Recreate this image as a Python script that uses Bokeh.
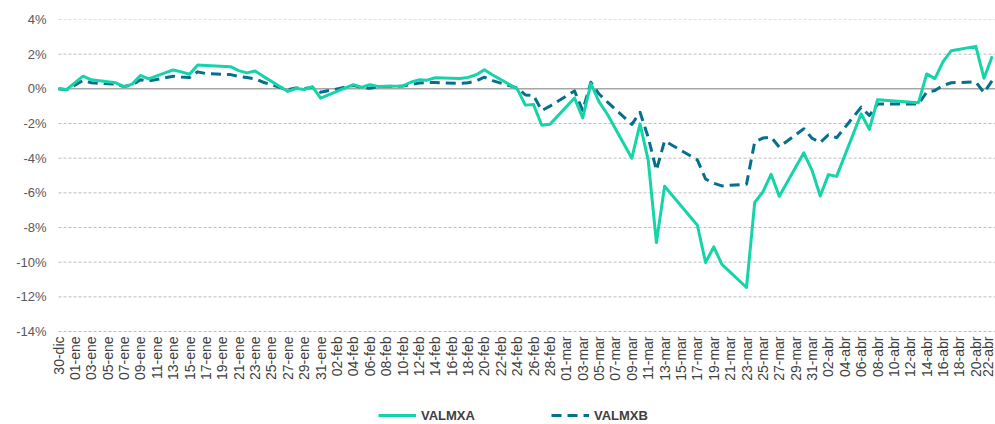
import pandas as pd
from math import pi
from bokeh.plotting import figure
from bokeh.models import (FixedTicker, Legend, LegendItem,
                          PrintfTickFormatter, ColumnDataSource)
from bokeh.embed import file_html
from bokeh.resources import INLINE

# ---------------- data ----------------
dates = [
    "2019-12-30", "2019-12-31",
    "2020-01-02", "2020-01-03", "2020-01-06", "2020-01-07", "2020-01-08", "2020-01-09", "2020-01-10",
    "2020-01-13", "2020-01-14", "2020-01-15", "2020-01-16", "2020-01-17",
    "2020-01-20", "2020-01-21", "2020-01-22", "2020-01-23", "2020-01-24",
    "2020-01-27", "2020-01-28", "2020-01-29", "2020-01-30", "2020-01-31",
    "2020-02-04", "2020-02-05", "2020-02-06", "2020-02-07",
    "2020-02-10", "2020-02-11", "2020-02-12", "2020-02-13", "2020-02-14",
    "2020-02-17", "2020-02-18", "2020-02-19", "2020-02-20", "2020-02-21",
    "2020-02-24", "2020-02-25", "2020-02-26", "2020-02-27", "2020-02-28",
    "2020-03-02", "2020-03-03", "2020-03-04", "2020-03-05", "2020-03-06",
    "2020-03-09", "2020-03-10", "2020-03-11", "2020-03-12", "2020-03-13",
    "2020-03-17", "2020-03-18", "2020-03-19", "2020-03-20",
    "2020-03-23", "2020-03-24", "2020-03-25", "2020-03-26", "2020-03-27",
    "2020-03-30", "2020-03-31", "2020-04-01", "2020-04-02", "2020-04-03",
    "2020-04-06", "2020-04-07", "2020-04-08",
    "2020-04-13", "2020-04-14", "2020-04-15", "2020-04-16", "2020-04-17",
    "2020-04-20", "2020-04-21", "2020-04-22",
]

valmxa = [
    0.00, -0.04,
    0.73, 0.52, 0.35, 0.13, 0.27, 0.77, 0.57,
    1.09, 0.98, 0.84, 1.38, 1.35,
    1.28, 1.05, 0.92, 1.03, 0.72,
    -0.15, 0.02, -0.04, 0.13, -0.54,
    0.24, 0.08, 0.24, 0.14,
    0.16, 0.38, 0.52, 0.50, 0.64,
    0.60, 0.66, 0.81, 1.10, 0.80,
    0.00, -0.94, -0.91, -2.10, -2.05,
    -0.53, -1.68, 0.30, -0.75, -1.45,
    -4.00, -2.02, -4.13, -8.87, -5.62,
    -7.87, -10.02, -9.12, -10.13,
    -11.46, -6.56, -5.95, -4.93, -6.20,
    -3.69, -4.70, -6.18, -4.95, -5.05,
    -1.44, -2.34, -0.63,
    -0.80, 0.86, 0.59, 1.57, 2.20,
    2.45, 0.61, 1.88,
]

valmxb = [
    0.00, -0.05,
    0.48, 0.35, 0.27, 0.13, 0.22, 0.53, 0.45,
    0.73, 0.68, 0.65, 0.98, 0.88,
    0.82, 0.72, 0.65, 0.58, 0.38,
    -0.05, 0.05, 0.02, 0.08, -0.20,
    0.19, 0.08, 0.03, 0.13,
    0.16, 0.25, 0.33, 0.36, 0.36,
    0.32, 0.35, 0.45, 0.67, 0.47,
    0.05, -0.35, -0.38, -1.25, -1.00,
    -0.12, -1.25, 0.38, -0.30, -0.75,
    -2.05, -1.35, -2.80, -4.70, -3.00,
    -4.10, -5.20, -5.45, -5.60,
    -5.50, -3.07, -2.84, -2.78, -3.36,
    -2.30, -2.85, -3.10, -2.65, -2.82,
    -1.06, -1.54, -0.88,
    -0.88, -0.19, -0.10, 0.20, 0.35,
    0.40, -0.22, 0.48,
]

tick_labels = [
    "30-dic", "01-ene", "03-ene", "05-ene", "07-ene", "09-ene", "11-ene", "13-ene",
    "15-ene", "17-ene", "19-ene", "21-ene", "23-ene", "25-ene", "27-ene", "29-ene",
    "31-ene", "02-feb", "04-feb", "06-feb", "08-feb", "10-feb", "12-feb", "14-feb",
    "16-feb", "18-feb", "20-feb", "22-feb", "24-feb", "26-feb", "28-feb", "01-mar",
    "03-mar", "05-mar", "07-mar", "09-mar", "11-mar", "13-mar", "15-mar", "17-mar",
    "19-mar", "21-mar", "23-mar", "25-mar", "27-mar", "29-mar", "31-mar", "02-abr",
    "04-abr", "06-abr", "08-abr", "10-abr", "12-abr", "14-abr", "16-abr", "18-abr",
    "20-abr", "22-abr",
]

y_ticks = [4, 2, 0, -2, -4, -6, -8, -10, -12, -14]

# ---------------- build ----------------
start = pd.Timestamp("2019-12-30")
day_num = [(pd.Timestamp(d) - start).days for d in dates]
src = ColumnDataSource(dict(x=day_num, a=valmxa, b=valmxb))

tick_pos = [2 * i for i in range(len(tick_labels))]

GREEN = "#14d4a8"
TEAL = "#04708e"
FONT = "Liberation Sans"

# horizontal scale: 937 px for 114.4 days; 8 px of extra room on the left so
# that the first date label is not cut by the frame
X_END = 114.4
PX_PER_DAY = 937 / X_END
X_START = -8 / PX_PER_DAY

# frame runs to the bottom of the page; -14..4 occupies its upper 312 px,
# the lower part holds the date labels and the legend
PX_PER_UNIT = 312 / 18.0
y_bottom = 4 - 405 / PX_PER_UNIT

p = figure(frame_width=945, frame_height=405,
           x_range=(X_START, X_END), y_range=(y_bottom, 4),
           output_backend="svg", toolbar_location=None,
           min_border_left=50, min_border_top=19,
           min_border_right=0, min_border_bottom=0)
p.outline_line_color = None
p.background_fill_color = "white"

# grid lines drawn from the data start to the right edge
p.xgrid.grid_line_color = None
p.ygrid.grid_line_color = None
grid_vals = [v for v in y_ticks if v != 0]
p.segment(x0=[0] * len(grid_vals), x1=[X_END] * len(grid_vals),
          y0=grid_vals, y1=grid_vals,
          line_color="#bdbdbd", line_width=1, line_dash="3 2")
p.segment(x0=[0], x1=[X_END], y0=[0], y1=[0],
          line_color="#a6a6a6", line_width=1.5)

# axes
p.yaxis.ticker = FixedTicker(ticks=y_ticks)
p.yaxis.formatter = PrintfTickFormatter(format="%d%%")
p.yaxis.axis_line_color = None
p.yaxis.major_tick_line_color = None
p.yaxis.minor_tick_line_color = None
p.yaxis.major_tick_out = 0
p.yaxis.major_label_standoff = 4
p.yaxis.major_label_text_font = FONT
p.yaxis.major_label_text_font_size = "13px"
p.yaxis.major_label_text_color = "#595959"

p.xaxis.fixed_location = -14
p.xaxis.ticker = FixedTicker(ticks=tick_pos)
p.xaxis.major_label_overrides = {t: l for t, l in zip(tick_pos, tick_labels)}
p.xaxis.major_label_orientation = pi / 2
p.xaxis.axis_line_color = None
p.xaxis.major_tick_line_color = None
p.xaxis.minor_tick_line_color = None
p.xaxis.major_tick_out = 0
p.xaxis.major_label_standoff = 5
p.xaxis.major_label_text_font = FONT
p.xaxis.major_label_text_font_size = "14px"
p.xaxis.major_label_text_color = "#404040"

# lines
r_b = p.line("x", "b", source=src, line_color=TEAL, line_width=3,
             line_dash="10 6", line_join="round")
r_a = p.line("x", "a", source=src, line_color=GREEN, line_width=3,
             line_join="round")

legend = Legend(items=[LegendItem(label="VALMXA", renderers=[r_a]),
                       LegendItem(label="VALMXB", renderers=[r_b])],
                orientation="horizontal", location=(328, 1),
                label_text_font=FONT, label_text_font_size="13px",
                label_text_font_style="bold", label_text_color="#404040",
                glyph_width=38, glyph_height=16, label_standoff=5,
                spacing=76, margin=0, padding=2, border_line_color=None,
                background_fill_alpha=0)
p.add_layout(legend, "center")

open("out.html", "w").write(file_html(p, INLINE))
